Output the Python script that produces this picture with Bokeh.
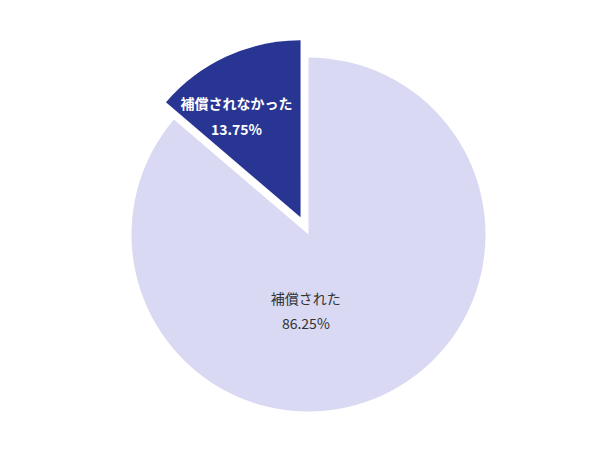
import math
from bokeh.plotting import figure
from bokeh.models import Range1d, ColumnDataSource
from bokeh.core.properties import value
from bokeh.embed import file_html
from bokeh.resources import INLINE

# ---- data ----
categories = ["補償されなかった", "補償された"]
shares = [13.75, 86.25]
colors = ["#283593", "#d9d9f3"]
label_colors = ["#ffffff", "#333333"]
label_styles = ["bold", "normal"]

# ---- layout (pixels == data units) ----
W, H = 592, 439
CX, CY = 308, 234          # pie centre measured from plot's top-left
R = 177
EXPLODE = 19
# label placement (angle deg ccw from +x, distance from centre)
label_polar = [(121.2, 139.0), (268.0, 76.0)]
line_gap = [13.0, 12.5]

p = figure(width=W, height=H, output_backend="svg", toolbar_location=None,
           x_range=Range1d(-CX, W - CX), y_range=Range1d(-(H - CY), CY),
           min_border=0)
p.axis.visible = False
p.grid.visible = False
p.outline_line_color = None
p.background_fill_color = "white"
p.border_fill_color = "white"

total = sum(shares)
start = math.pi / 2
xs, ys, starts, ends = [], [], [], []
lx, ly = [], []
for i, s in enumerate(shares):
    span = 2 * math.pi * s / total
    end = start + span
    mid = (start + end) / 2
    off = EXPLODE if i == 0 else 0
    ox, oy = off * math.cos(mid), off * math.sin(mid)
    xs.append(ox); ys.append(oy); starts.append(start); ends.append(end)
    a, d = label_polar[i]
    lx.append(d * math.cos(math.radians(a)))
    ly.append(d * math.sin(math.radians(a)))
    start = end

src = ColumnDataSource(dict(x=xs, y=ys, s=starts, e=ends, c=colors))
p.wedge(x="x", y="y", radius=R, start_angle="s", end_angle="e",
        fill_color="c", line_color=None, source=src)

for i in range(len(shares)):
    p.text(x=[lx[i]], y=[ly[i] + line_gap[i]], text=[categories[i]],
           text_font=value("Noto Sans CJK JP"), text_font_size="14px",
           text_font_style=label_styles[i], text_color=label_colors[i],
           text_align="center", text_baseline="middle")
    p.text(x=[lx[i]], y=[ly[i] - line_gap[i]], text=[f"{shares[i]:.2f}%"],
           text_font=value("Noto Sans CJK JP"), text_font_size="14px",
           text_font_style=label_styles[i], text_color=label_colors[i],
           text_align="center", text_baseline="middle")

open("out.html", "w").write(file_html(p, INLINE))
